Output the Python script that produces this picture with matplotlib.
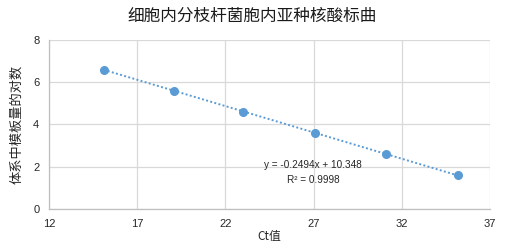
import matplotlib
matplotlib.use("Agg")
import matplotlib.pyplot as plt
import numpy as np

ct_values = [15.1, 19.1, 23.0, 27.1, 31.1, 35.2]
log_template = [6.6, 5.6, 4.6, 3.6, 2.6, 1.6]
x_ticks = [12, 17, 22, 27, 32, 37]
y_ticks = [0, 2, 4, 6, 8]

BLUE = "#5B9BD5"
GRID = "#D9D9D9"
TEXT = "#262626"

plt.rcParams["font.family"] = ["Noto Sans CJK SC", "DejaVu Sans"]

figure = plt.figure(figsize=(5.05, 2.48), dpi=100)
axis = figure.add_axes([0.097, 0.157, 0.873, 0.682])

slope, intercept = np.polyfit(ct_values, log_template, 1)
line_x = np.array([ct_values[0], ct_values[-1]])
axis.plot(line_x, slope * line_x + intercept, color=BLUE, linestyle=(0, (1, 1.2)),
          linewidth=1.4, zorder=2)
axis.plot(ct_values, log_template, "o", color=BLUE, markersize=5.5, zorder=3)

axis.set_xlim(12, 37)
axis.set_ylim(0, 8)
axis.set_xticks(x_ticks)
axis.set_yticks(y_ticks)
axis.grid(True, color=GRID, linewidth=0.9)
axis.set_axisbelow(True)
for side in ["top", "right"]:
    axis.spines[side].set_visible(False)
for side in ["left", "bottom"]:
    axis.spines[side].set_color("#BFBFBF")
    axis.spines[side].set_linewidth(0.9)
axis.tick_params(length=0, labelsize=8, labelcolor=TEXT, pad=7)
for label in axis.get_xticklabels() + axis.get_yticklabels():
    label.set_family(["Liberation Sans", "DejaVu Sans"])

axis.text(26.97, 2.08, "y = -0.2494x + 10.348", ha="center", va="center",
          fontsize=7.2, color=TEXT, family=["Liberation Sans", "DejaVu Sans"])
axis.text(26.97, 1.37, "R² = 0.9998", ha="center", va="center",
          fontsize=7.2, color=TEXT, family=["Liberation Sans", "DejaVu Sans"])

axis.set_xlabel("Ct值", fontsize=8.5, color=TEXT, labelpad=1)
axis.set_ylabel("体系中模板量的对数", fontsize=9.5, color=TEXT, labelpad=7)
figure.suptitle("细胞内分枝杆菌胞内亚种核酸标曲", fontsize=12, color="#1a1a1a", y=0.97)

figure.savefig("out.png", dpi=100)
